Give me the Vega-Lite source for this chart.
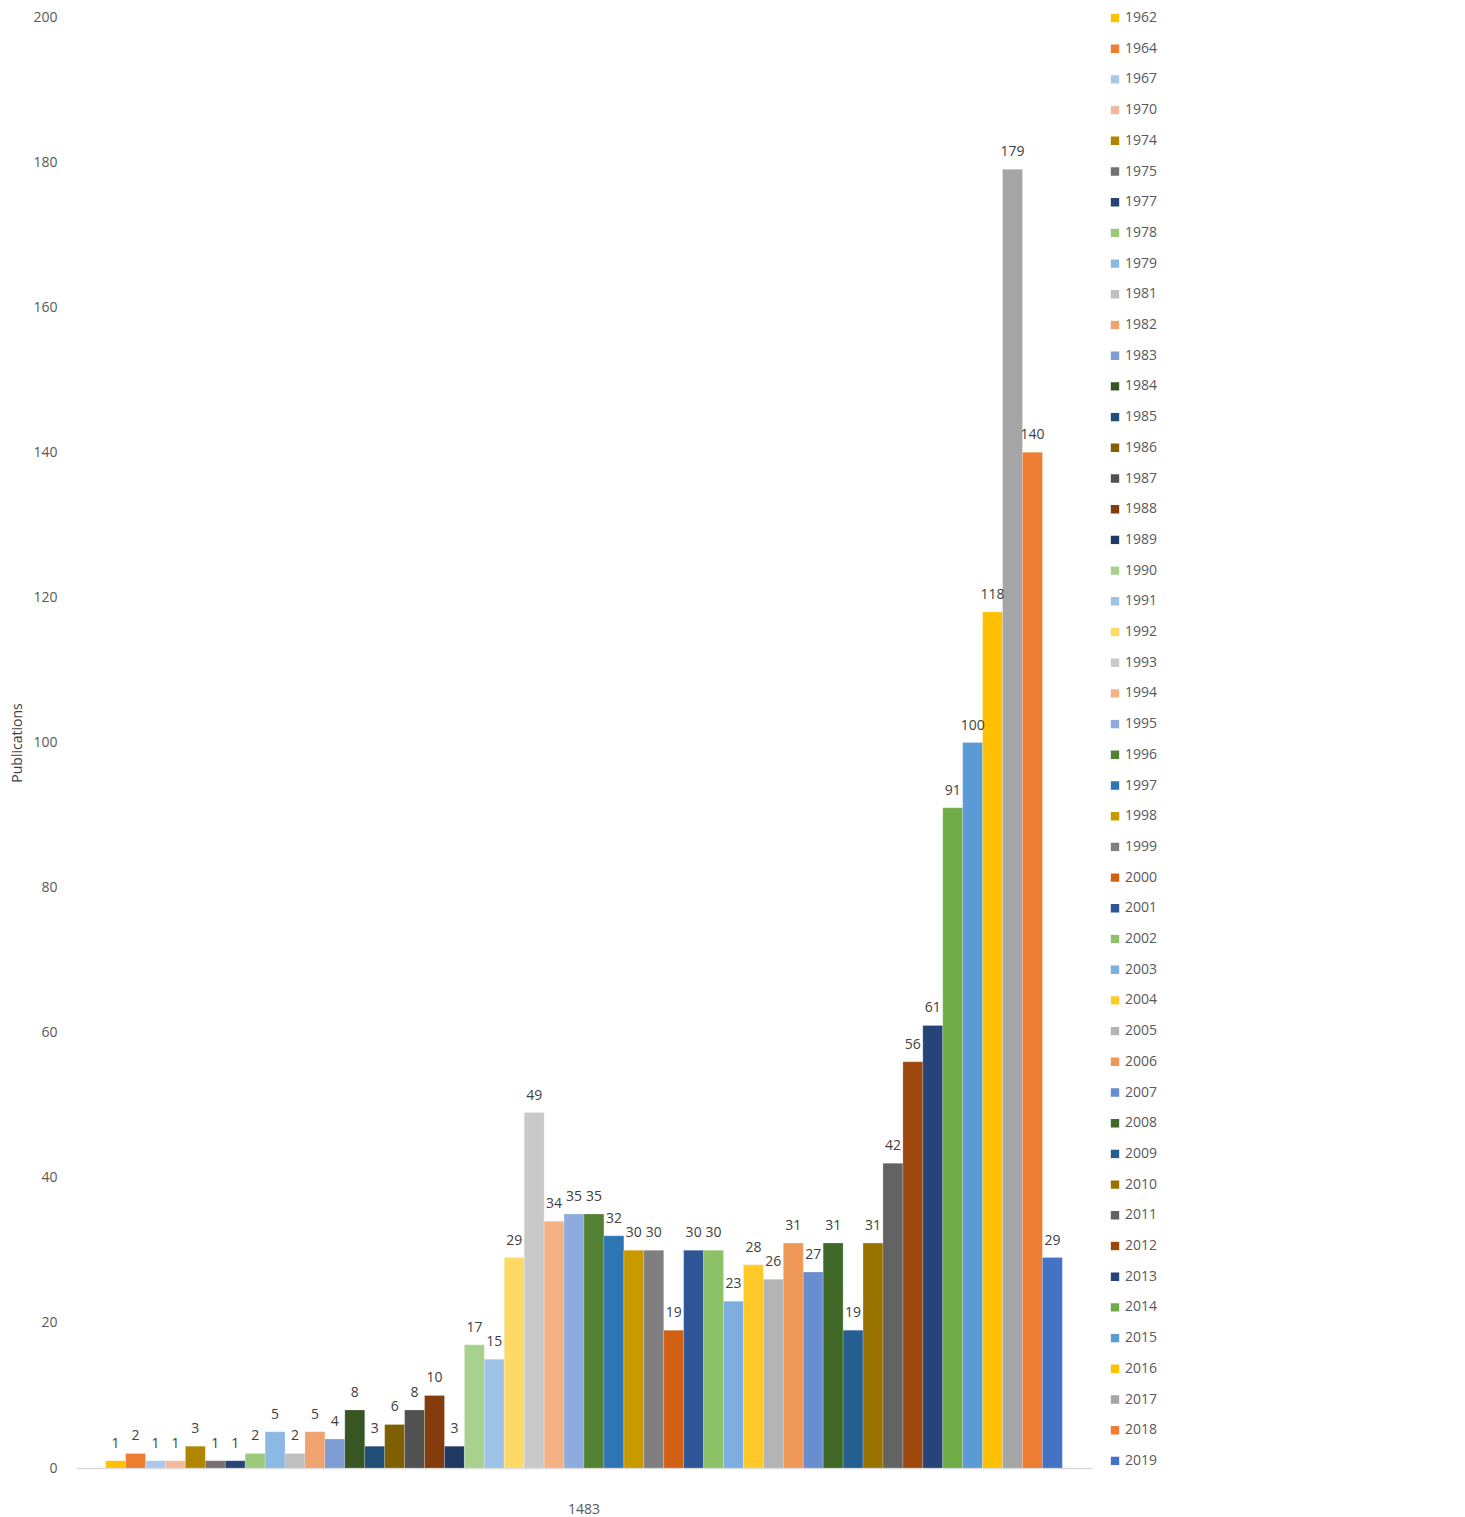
{
  "$schema": "https://vega.github.io/schema/vega-lite/v6.json",
  "autosize": "none",
  "width": 1016,
  "height": 1451,
  "padding": {"left": 76, "top": 17, "right": 373, "bottom": 49},
  "background": "white",
  "config": {
    "view": {"stroke": null},
    "font": "Open Sans"
  },
  "data": {
    "values": [
      {"group": "1483", "year": "1962", "pubs": 1},
      {"group": "1483", "year": "1964", "pubs": 2},
      {"group": "1483", "year": "1967", "pubs": 1},
      {"group": "1483", "year": "1970", "pubs": 1},
      {"group": "1483", "year": "1974", "pubs": 3},
      {"group": "1483", "year": "1975", "pubs": 1},
      {"group": "1483", "year": "1977", "pubs": 1},
      {"group": "1483", "year": "1978", "pubs": 2},
      {"group": "1483", "year": "1979", "pubs": 5},
      {"group": "1483", "year": "1981", "pubs": 2},
      {"group": "1483", "year": "1982", "pubs": 5},
      {"group": "1483", "year": "1983", "pubs": 4},
      {"group": "1483", "year": "1984", "pubs": 8},
      {"group": "1483", "year": "1985", "pubs": 3},
      {"group": "1483", "year": "1986", "pubs": 6},
      {"group": "1483", "year": "1987", "pubs": 8},
      {"group": "1483", "year": "1988", "pubs": 10},
      {"group": "1483", "year": "1989", "pubs": 3},
      {"group": "1483", "year": "1990", "pubs": 17},
      {"group": "1483", "year": "1991", "pubs": 15},
      {"group": "1483", "year": "1992", "pubs": 29},
      {"group": "1483", "year": "1993", "pubs": 49},
      {"group": "1483", "year": "1994", "pubs": 34},
      {"group": "1483", "year": "1995", "pubs": 35},
      {"group": "1483", "year": "1996", "pubs": 35},
      {"group": "1483", "year": "1997", "pubs": 32},
      {"group": "1483", "year": "1998", "pubs": 30},
      {"group": "1483", "year": "1999", "pubs": 30},
      {"group": "1483", "year": "2000", "pubs": 19},
      {"group": "1483", "year": "2001", "pubs": 30},
      {"group": "1483", "year": "2002", "pubs": 30},
      {"group": "1483", "year": "2003", "pubs": 23},
      {"group": "1483", "year": "2004", "pubs": 28},
      {"group": "1483", "year": "2005", "pubs": 26},
      {"group": "1483", "year": "2006", "pubs": 31},
      {"group": "1483", "year": "2007", "pubs": 27},
      {"group": "1483", "year": "2008", "pubs": 31},
      {"group": "1483", "year": "2009", "pubs": 19},
      {"group": "1483", "year": "2010", "pubs": 31},
      {"group": "1483", "year": "2011", "pubs": 42},
      {"group": "1483", "year": "2012", "pubs": 56},
      {"group": "1483", "year": "2013", "pubs": 61},
      {"group": "1483", "year": "2014", "pubs": 91},
      {"group": "1483", "year": "2015", "pubs": 100},
      {"group": "1483", "year": "2016", "pubs": 118},
      {"group": "1483", "year": "2017", "pubs": 179},
      {"group": "1483", "year": "2018", "pubs": 140},
      {"group": "1483", "year": "2019", "pubs": 29}
    ]
  },
  "encoding": {
    "x": {
      "field": "group",
      "type": "nominal",
      "scale": {"paddingInner": 0, "paddingOuter": 0.031},
      "axis": {
        "title": null,
        "labelAngle": 0,
        "labelFontSize": 14,
        "labelColor": "#595959",
        "labelPadding": 34,
        "ticks": false,
        "domainColor": "#D9D9D9",
        "domainWidth": 1.5
      }
    },
    "xOffset": {"field": "year", "type": "nominal", "sort": null, "scale": {"paddingInner": 0, "paddingOuter": 0}},
    "y": {
      "field": "pubs",
      "type": "quantitative",
      "scale": {"domain": [0, 200], "nice": false},
      "axis": {
        "values": [0, 20, 40, 60, 80, 100, 120, 140, 160, 180, 200],
        "grid": false,
        "domain": false,
        "ticks": false,
        "labelFontSize": 14,
        "labelColor": "#595959",
        "labelPadding": 19,
        "title": "Publications",
        "titleFontSize": 14,
        "titleFontWeight": "normal",
        "titleColor": "#404040",
        "titlePadding": 8
      }
    }
  },
  "layer": [
    {
      "mark": {"type": "bar", "stroke": "white", "strokeWidth": 0.5, "strokeOpacity": 0.4},
      "encoding": {
        "color": {
          "field": "year",
          "type": "nominal",
          "sort": null,
          "scale": {
            "range": ["#FFC000", "#ED7D31", "#A9C8EA", "#F4B99A", "#B08500", "#767171", "#264478", "#9BC97A", "#8CB9E3", "#BFBFBF", "#F0A26F", "#7F9ED6", "#375623", "#1F4E79", "#7F6000", "#525252", "#843C0C", "#203864", "#A9D18E", "#9DC3E6", "#FFD966", "#C9C9C9", "#F4B183", "#8FAADC", "#548235", "#2E75B6", "#C99A00", "#7F7F7F", "#D26012", "#2F5597", "#8CC168", "#7DAEE0", "#FFCA28", "#B4B4B4", "#F09858", "#698ED0", "#3F6829", "#255E91", "#997300", "#636363", "#9E480E", "#264478", "#70AD47", "#5B9BD5", "#FFC000", "#A5A5A5", "#ED7D31", "#4472C4"]
          },
          "legend": {
            "title": null,
            "orient": "none",
            "legendX": 1032,
            "legendY": -6,
            "symbolLimit": 0,
            "symbolType": "square",
            "symbolSize": 70,
            "symbolStrokeWidth": 0,
            "symbolOpacity": 1,
            "labelFontSize": 14,
            "labelColor": "#595959",
            "labelOffset": 3,
            "rowPadding": 16.7,
            "clipHeight": 14
          }
        }
      }
    },
    {
      "mark": {"type": "text", "dy": -10, "baseline": "bottom", "fontSize": 14, "color": "#404040"},
      "encoding": {
        "text": {"field": "pubs", "type": "quantitative"}
      }
    }
  ]
}
